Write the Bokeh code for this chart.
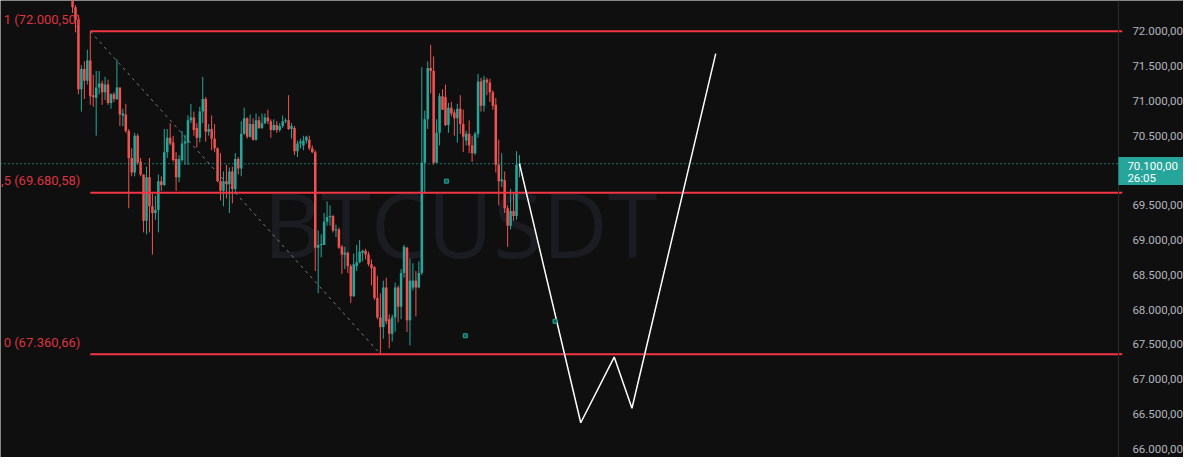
from bokeh.plotting import figure
from bokeh.models import (Range1d, LinearAxis, FixedTicker, Label,
                          BoxAnnotation, ColumnDataSource)
from bokeh.core.properties import value
from bokeh.embed import file_html
from bokeh.resources import INLINE
import numpy as np

# ---------------- data ----------------
open_ = [72556, 72347, 72167, 71167, 71458, 71292, 71583, 71083, 71042, 71194,
         71250, 71125, 71236, 70972, 71097, 71028, 71194, 70792, 70806, 70569,
         70181, 69972, 70500, 70125, 69944, 69278, 69903, 69486, 69389, 69431,
         69847, 69792, 70264, 70472, 70403, 70167, 69903, 70153, 70389, 70403,
         70722, 70764, 70611, 70472, 70847, 71028, 70556, 70597, 70458, 70319,
         69847, 69708, 69847, 69806, 69986, 69736, 70167, 70028, 70528, 70750,
         70486, 70667, 70444, 70722, 70611, 70681, 70764, 70708, 70583, 70653,
         70583, 70639, 70708, 70722, 70597, 70611, 70278, 70389, 70361, 70431,
         70444, 70319, 70264, 68889, 68931, 68931, 69264, 69333, 69347, 69139,
         69153, 68903, 68792, 68819, 68625, 68194, 68625, 68681, 68819, 68847,
         68792, 68653, 68611, 68167, 67889, 67750, 68319, 67861, 67653, 67889,
         68319, 68042, 68528, 68889, 67847, 68319, 68417, 68319, 68528, 70111,
         70736, 71472, 71431, 70111, 70542, 71069, 71056, 70653, 70903, 70833,
         70750, 70889, 70667, 70431, 70528, 70361, 70250, 70528, 71278, 70931,
         71306, 71264, 71125, 70944, 70083, 69847, 69861, 69458, 69208, 69417,
         69347, 70083]
high = [72653, 72375, 72236, 71514, 71569, 71736, 72000, 71375, 71431, 71431,
        71292, 71347, 71306, 71111, 71125, 71597, 71194, 70889, 70958, 70597,
        70319, 70542, 70528, 70181, 69944, 70056, 70181, 69667, 69639, 69944,
        69917, 70597, 70597, 70681, 70500, 70264, 70222, 70569, 70514, 70792,
        70958, 70847, 70681, 70917, 71347, 71056, 70667, 70792, 70667, 70333,
        70250, 69986, 70083, 70042, 70056, 70250, 70194, 70708, 70903, 70764,
        70806, 70750, 70819, 70778, 70819, 70819, 70875, 70736, 70736, 70708,
        70681, 70792, 70750, 71083, 70681, 70639, 70431, 70458, 70500, 70500,
        70500, 70361, 70292, 69139, 69083, 69389, 69556, 69500, 69361, 69222,
        69181, 68931, 68903, 68833, 68653, 68806, 68931, 69000, 68861, 68875,
        68833, 68722, 68625, 68486, 68236, 68417, 68458, 67931, 67931, 68389,
        68347, 68583, 68931, 68903, 68736, 68667, 68556, 68694, 71486, 70861,
        71569, 71806, 71639, 70736, 71111, 71167, 71236, 70972, 70986, 70875,
        70958, 71083, 70875, 70569, 70722, 70500, 70556, 71389, 71333, 71361,
        71333, 71319, 71153, 71042, 70444, 70250, 69986, 69500, 69736, 69667,
        70278, 70222]
low = [72264, 71986, 71097, 70847, 71028, 71236, 70944, 70917, 70500, 71097,
       70944, 71014, 70944, 70889, 70986, 71014, 70639, 70639, 70542, 69458,
       69917, 69917, 70083, 69917, 69111, 69083, 69111, 68792, 69292, 69111,
       69708, 69778, 70181, 70361, 70125, 69708, 69833, 70125, 70083, 70083,
       70681, 70500, 70333, 70403, 70681, 70417, 70500, 70292, 70264, 69833,
       69569, 69486, 69597, 69389, 69528, 69667, 69944, 69917, 70514, 70458,
       70472, 70431, 70431, 70597, 70597, 70667, 70667, 70472, 70569, 70542,
       70556, 70611, 70681, 70583, 70458, 70222, 70194, 70319, 70292, 70389,
       70292, 70250, 68556, 68236, 68750, 68931, 69208, 69208, 69111, 69042,
       68875, 68514, 68583, 68528, 68097, 68181, 68556, 68667, 68694, 68722,
       68625, 68347, 68139, 67861, 67361, 67583, 67792, 67444, 67542, 67681,
       67819, 67861, 68458, 67681, 67486, 68278, 67903, 68306, 68500, 69667,
       70597, 71111, 70083, 70111, 70361, 70875, 70639, 70542, 70778, 70500,
       70403, 70528, 70264, 70361, 70250, 70125, 70222, 70472, 70847, 70847,
       71083, 70986, 70875, 69972, 69500, 69764, 69389, 68903, 69153, 69278,
       69292, 69903]
close = [72347, 72167, 71167, 71458, 71292, 71583, 71069, 71056, 71194, 71250,
         71125, 71236, 70972, 71097, 71028, 71194, 70806, 70819, 70569, 70181,
         69972, 70500, 70111, 69944, 69278, 69903, 69486, 69389, 69431, 69847,
         69792, 70264, 70472, 70389, 70153, 69903, 70167, 70389, 70417, 70722,
         70764, 70583, 70472, 70847, 71028, 70556, 70597, 70458, 70319, 69847,
         69708, 69847, 69806, 69986, 69736, 70167, 70028, 70528, 70750, 70486,
         70667, 70444, 70722, 70611, 70681, 70764, 70708, 70583, 70653, 70583,
         70639, 70708, 70722, 70597, 70639, 70278, 70389, 70417, 70431, 70486,
         70319, 70264, 68889, 68931, 68944, 69264, 69333, 69347, 69139, 69153,
         68889, 68792, 68819, 68625, 68194, 68653, 68681, 68833, 68847, 68792,
         68653, 68597, 68167, 67889, 67750, 68319, 67833, 67653, 67889, 68319,
         68042, 68528, 68903, 67847, 68417, 68417, 68319, 68528, 70111, 70736,
         71472, 71431, 70111, 70542, 71069, 70875, 70653, 70903, 70819, 70750,
         70889, 70667, 70486, 70528, 70361, 70250, 70528, 71278, 70931, 71306,
         71264, 71125, 70931, 70083, 69847, 69875, 69458, 69208, 69417, 69347,
         70083, 70097]

fib_levels = [72000.50, 69680.58, 67360.66]
fib_labels = ["1 (72.000,50)", "0,5 (69.680,58)", "0 (67.360,66)"]
fib_start = 6

diag_x = [6, 104]
diag_y = [72000.50, 67360.66]

proj_x = [151, 171.7, 183, 189, 217.3]
proj_y = [70097, 66375, 67319, 66583, 71680]

dot_x = [126.3, 132.7, 163]
dot_y = [69847, 67625, 67833]

last_price = 70100
last_price_label = "70.100,00"
countdown_label = "26:05"
watermark = "BTCUSDT"

price_ticks = [66000, 66500, 67000, 67500, 68000, 68500, 69000,
               69500, 70000, 70500, 71000, 71500, 72000]


def fmt(v):
    s = f"{v:,.2f}"
    return s.replace(",", "X").replace(".", ",").replace("X", ".")


# ---------------- figure ----------------
UP = "#26a69a"
DOWN = "#ef5350"
FIB = "#f23645"
BG = "#0f0f0f"
X_START, X_AXIS, X_END = -24.33, 353.33, 375.33
Y_START, Y_END = 65875, 72444

p = figure(width=1183, height=457, output_backend="svg", toolbar_location=None,
           x_range=Range1d(X_START, X_END), y_range=Range1d(Y_START, Y_END),
           x_axis_location=None, y_axis_location=None,
           min_border_left=0, min_border_top=0, min_border_bottom=0, min_border_right=0,
           background_fill_color=BG, border_fill_color=BG, outline_line_color=None)
p.xgrid.visible = False
p.ygrid.visible = False

# price scale drawn at a fixed place of the chart, labels to its right
axis = LinearAxis(ticker=FixedTicker(ticks=price_ticks), fixed_location=X_AXIS,
                  major_label_overrides={t: fmt(t) for t in price_ticks},
                  major_tick_line_color=None, minor_tick_line_color=None,
                  axis_line_color="#2a2a2e", axis_line_width=1,
                  major_label_text_color="#b2b5be",
                  major_label_text_font="Roboto",
                  major_label_text_font_size="11.5px",
                  major_label_standoff=8)
p.add_layout(axis, "right")

# watermark
p.text(x=[131], y=[69250], text=[watermark], text_font=value("Open Sans"),
       text_font_size="90px", text_color="#1b1c21",
       text_align="center", text_baseline="middle")

# candles
o = np.array(open_, dtype=float)
c = np.array(close, dtype=float)
idx = np.arange(len(o))
up = c >= o
src = ColumnDataSource(dict(
    x=idx, top=np.maximum(o, c), bottom=np.minimum(o, c),
    high=np.array(high, dtype=float), low=np.array(low, dtype=float),
    color=np.where(up, UP, DOWN)))
p.segment(x0="x", y0="low", x1="x", y1="high", line_color="color", line_width=1, source=src)
p.vbar(x="x", top="top", bottom="bottom", width=0.85, fill_color="color",
       line_color=None, source=src)

# current price line (up to the price scale)
p.segment(x0=[X_START], x1=[X_AXIS], y0=[last_price], y1=[last_price],
          line_color="#2bb3a5", line_dash="1 3", line_width=1.2)

# fib levels, with their small marks on the price scale
p.segment(x0=[fib_start] * 3, x1=[X_AXIS] * 3, y0=fib_levels, y1=fib_levels,
          line_color=FIB, line_width=2)
p.segment(x0=[X_AXIS] * 3, x1=[X_AXIS + 1.3] * 3, y0=fib_levels, y1=fib_levels,
          line_color=FIB, line_width=2)
p.text(x=[fib_start] * 3, y=fib_levels, text=fib_labels, text_font=value("Roboto"),
       text_font_size="13px", text_color="#dd3340", text_align="right",
       text_baseline="middle", x_offset=-10, y_offset=-12)

# diagonal trend line
p.line(diag_x, diag_y, line_color="#787b86", line_dash="3 4", line_width=1)

# projection
p.line(proj_x, proj_y, line_color="#ffffff", line_width=1.5)

# dots
p.scatter(x=dot_x, y=dot_y, marker="square", size=4, fill_color="#0d5e58",
          line_color=UP, line_width=1)

# price tag on the price scale
px_per_price = 457 / (Y_END - Y_START)
p.add_layout(BoxAnnotation(left=X_AXIS, right=X_END,
                           top=last_price + 6.6 / px_per_price,
                           bottom=last_price - 21.5 / px_per_price,
                           fill_color=UP, fill_alpha=1.0, line_color=None))
p.add_layout(Label(x=X_AXIS, y=last_price, x_offset=9, y_offset=-2,
                   text=last_price_label, text_align="left", text_baseline="middle",
                   text_font="Roboto", text_font_size="11.5px", text_color="#ffffff"))
p.add_layout(Label(x=X_AXIS, y=last_price, x_offset=9, y_offset=-14,
                   text=countdown_label, text_align="left", text_baseline="middle",
                   text_font="Roboto", text_font_size="11.5px", text_color="#ffffff"))

open("out.html", "w").write(file_html(p, INLINE))
